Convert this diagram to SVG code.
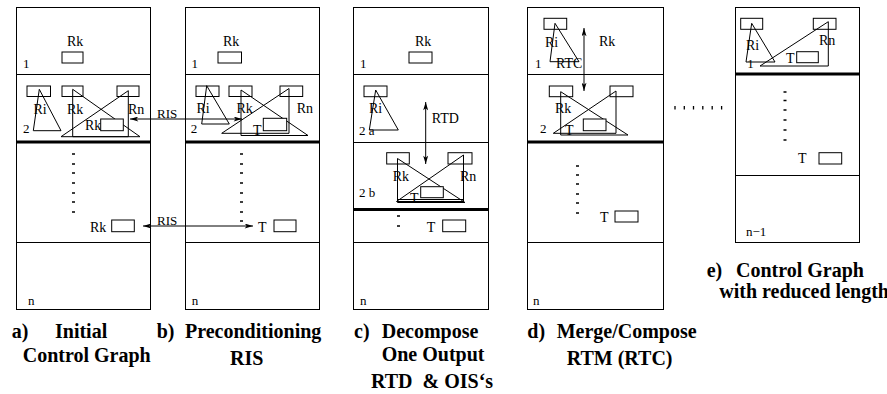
<svg xmlns="http://www.w3.org/2000/svg" width="887" height="394" viewBox="0 0 887 394">
<style>
.frame{fill:#fff;stroke:#000;stroke-width:1}
.ln{fill:none;stroke:#000;stroke-width:1}
.thick{fill:none;stroke:#000;stroke-width:3}
.bx{fill:#fff;stroke:#000;stroke-width:1}
.tri{fill:none;stroke:#000;stroke-width:1;stroke-linejoin:miter}
.dash{fill:none;stroke:#000;stroke-width:1.3}
.t{font-family:"Liberation Serif","Times New Roman",serif;font-size:14px;fill:#000}
.s{font-family:"Liberation Serif","Times New Roman",serif;font-size:13px;fill:#000}
.cap{font-family:"Liberation Serif","Times New Roman",serif;font-size:20px;font-weight:bold;fill:#000}
.arr{fill:none;stroke:#000;stroke-width:1;marker-start:url(#ah);marker-end:url(#ah)}
</style>
<defs>
<marker id="ah" viewBox="0 0 10 6" refX="10" refY="3" markerWidth="9" markerHeight="5" orient="auto-start-reverse" markerUnits="userSpaceOnUse">
<path d="M0,0 L10,3 L0,6 L2.5,3 z" fill="#000"/>
</marker>
</defs>
<rect width="887" height="394" fill="#fff"/>

<g id="panel-a">
<rect class="frame" x="16.5" y="7.5" width="134" height="302"/>
<path class="ln" d="M16.5,74.5 H150.5 M16.5,242.5 H150.5"/>
<path class="thick" d="M16.5,142 H150.5"/>
<text class="t" x="67" y="46">Rk</text>
<rect class="bx" x="62" y="52" width="21" height="11"/>
<text class="s" x="23" y="68">1</text>
<rect class="bx" x="27" y="86" width="23.5" height="10.5"/>
<rect class="bx" x="62" y="86" width="21" height="10.5"/>
<rect class="bx" x="117" y="86" width="22" height="10.5"/>
<polygon class="tri" points="39.3,89.3 33.3,130.7 61,130.7"/>
<polygon class="tri" points="72.7,89.3 72.7,136.7 140,136.7"/>
<polygon class="tri" points="128.3,90.7 61,136.7 128.3,136.7"/>
<text class="t" x="33.5" y="114">Ri</text>
<text class="t" x="67" y="114">Rk</text>
<text class="t" x="128" y="114">Rn</text>
<text class="t" x="85" y="130">Rk</text>
<rect class="bx" x="100.7" y="119" width="22.6" height="11.7"/>
<text class="s" x="23" y="133">2</text>
<path class="dash" d="M72,154 h3 M72,164 h3 M72,173 h3 M72,183 h3 M72,193 h3 M72,202 h3 M72,212 h3"/>
<text class="t" x="90" y="231.5">Rk</text>
<rect class="bx" x="111.7" y="220" width="22.6" height="11.7"/>
<text class="s" x="28" y="305">n</text>
</g>

<g id="panel-b">
<rect class="frame" x="185.5" y="7.5" width="134" height="302"/>
<path class="ln" d="M185.5,74.5 H319.5 M185.5,242.5 H319.5"/>
<path class="thick" d="M185.5,142 H319.5"/>
<text class="t" x="223" y="46">Rk</text>
<rect class="bx" x="218" y="52" width="23.5" height="11"/>
<text class="s" x="191.5" y="68">1</text>
<rect class="bx" x="196" y="86" width="23" height="10.5"/>
<rect class="bx" x="229" y="86" width="23" height="10.5"/>
<rect class="bx" x="280" y="86" width="22.7" height="10.5"/>
<polygon class="tri" points="206.7,85.7 201.7,124 229.3,124"/>
<polygon class="tri" points="241,90 241,135.5 308,135.5"/>
<polygon class="tri" points="289,88.5 221.7,133.3 289,133.3"/>
<text class="t" x="196.5" y="113">Ri</text>
<text class="t" x="236.5" y="113">Rk</text>
<text class="t" x="296.7" y="113">Rn</text>
<rect class="bx" x="263.3" y="118.3" width="23.4" height="12.4"/>
<text class="t" x="253" y="135">T</text>
<text class="s" x="190.7" y="133">2</text>
<path class="dash" d="M240,154 h3 M240,164 h3 M240,173 h3 M240,183 h3 M240,193 h3 M240,202 h3 M240,212 h3 M240,221 h3"/>
<text class="t" x="258" y="231.5">T</text>
<rect class="bx" x="274" y="220" width="22" height="11.7"/>
<text class="s" x="191.7" y="305">n</text>
</g>

<g id="panel-c">
<rect class="frame" x="353.5" y="7.5" width="135" height="302"/>
<path class="ln" d="M353.5,74.5 H488.5 M353.5,142.5 H488.5 M353.5,242.5 H488.5"/>
<path class="thick" d="M353.5,209.5 H488.5"/>
<text class="t" x="415" y="46">Rk</text>
<rect class="bx" x="409" y="52" width="23" height="11"/>
<text class="s" x="360" y="68">1</text>
<rect class="bx" x="364" y="86" width="23" height="10.7"/>
<polygon class="tri" points="375.7,90 369.3,130 398.3,130"/>
<text class="t" x="369" y="113">Ri</text>
<text class="s" x="359" y="135">2 a</text>
<text class="t" x="431.7" y="123">RTD</text>
<rect class="bx" x="386.7" y="152.7" width="22.6" height="11.3"/>
<rect class="bx" x="448" y="152.7" width="24" height="11.3"/>
<polygon class="tri" points="397.5,158.5 397.5,202.5 465,202.5"/>
<polygon class="tri" points="463.5,155 396.5,201.5 463.5,201.5"/>
<path class="ln" d="M397.5,199.5 H463.5"/>
<text class="t" x="392.7" y="180.7">Rk</text>
<text class="t" x="460" y="181">Rn</text>
<rect class="bx" x="420.7" y="186.7" width="22.6" height="11"/>
<text class="t" x="410" y="203">T</text>
<text class="s" x="359" y="197">2 b</text>
<path class="dash" d="M397,216 h3 M397,226 h3"/>
<text class="t" x="426.7" y="231.5">T</text>
<rect class="bx" x="442.7" y="220" width="23" height="11.7"/>
<text class="s" x="360" y="305">n</text>
</g>

<g id="panel-d">
<rect class="frame" x="527.5" y="7.5" width="136" height="302"/>
<path class="ln" d="M527.5,74.5 H663.5 M527.5,242.5 H663.5"/>
<path class="thick" d="M527.5,142 H663.5"/>
<rect class="bx" x="544" y="18.3" width="22.7" height="11"/>
<polygon class="tri" points="555,23.3 550,61.7 579,61.7"/>
<text class="t" x="545" y="46.7">Ri</text>
<text class="t" x="556" y="68">RTC</text>
<text class="s" x="535" y="68">1</text>
<text class="t" x="599" y="46">Rk</text>
<rect class="bx" x="549.3" y="86" width="23.4" height="10.7"/>
<rect class="bx" x="610" y="86" width="23" height="10.7"/>
<polygon class="tri" points="560.7,91.7 560.7,135 628,135"/>
<polygon class="tri" points="616,91 553.3,133.3 616,133.3"/>
<text class="t" x="555" y="113">Rk</text>
<text class="s" x="540" y="133">2</text>
<text class="t" x="565" y="135">T</text>
<rect class="bx" x="583.3" y="119" width="22.7" height="11.7"/>
<path class="dash" d="M576,166 h3 M576,175 h3 M576,184 h3 M576,194 h3 M576,203 h3 M576,213 h3"/>
<text class="t" x="600" y="222">T</text>
<rect class="bx" x="615" y="211" width="23" height="11"/>
<text class="s" x="533" y="305">n</text>
</g>

<g id="gap-dots">
<path class="dash" d="M675,106 v3.5 M684.3,106 v3.5 M693.5,106 v3.5 M702.8,106 v3.5 M712.2,106 v3.5 M721.6,106 v3.5"/>
</g>

<g id="panel-e">
<rect class="frame" x="735.5" y="7.5" width="124" height="235"/>
<path class="ln" d="M735.5,175.5 H859.5"/>
<path class="thick" d="M735.5,74 H859.5"/>
<rect class="bx" x="740.7" y="18.3" width="22" height="11"/>
<rect class="bx" x="813.3" y="18.3" width="22.7" height="11"/>
<polygon class="tri" points="751.7,23.3 746,62 775,62"/>
<polygon class="tri" points="828.3,21.7 760,66 828.3,66"/>
<text class="t" x="746" y="50">Ri</text>
<text class="t" x="819" y="45">Rn</text>
<text class="s" x="747.3" y="68.3">1</text>
<text class="t" x="786" y="62.7">T</text>
<rect class="bx" x="796.7" y="51.7" width="21.6" height="11"/>
<path class="dash" d="M783.5,92 h3 M783.5,100.5 h3 M783.5,110 h3 M783.5,120 h3 M783.5,130 h3 M783.5,140 h3"/>
<text class="t" x="798" y="163">T</text>
<rect class="bx" x="819" y="152.7" width="22.7" height="11.3"/>
<text class="s" x="746" y="236">n−1</text>
</g>

<g id="connectors">
<path class="arr" d="M130,119 H242"/>
<text class="s" x="157" y="117.5">RIS</text>
<path class="arr" d="M143,226 H253"/>
<text class="s" x="157" y="225">RIS</text>
<path class="arr" d="M425.7,102 V164"/>
<path class="arr" d="M584,28 V91"/>
</g>

<g id="captions">
<text class="cap" x="11.7" y="338">a)</text>
<text class="cap" x="55" y="338">Initial</text>
<text class="cap" x="22.7" y="361.7">Control Graph</text>
<text class="cap" x="156.7" y="338">b)</text>
<text class="cap" x="185" y="338">Preconditioning</text>
<text class="cap" x="230" y="365">RIS</text>
<text class="cap" x="354" y="338">c)</text>
<text class="cap" x="381.7" y="338">Decompose</text>
<text class="cap" x="381.7" y="361">One Output</text>
<text class="cap" x="371" y="388" xml:space="preserve">RTD  &amp; OIS‘s</text>
<text class="cap" x="527.3" y="338">d)</text>
<text class="cap" x="556.7" y="338">Merge/Compose</text>
<text class="cap" x="566.7" y="365">RTM (RTC)</text>
<text class="cap" x="706.7" y="276.7">e)</text>
<text class="cap" x="736" y="276.7">Control Graph</text>
<text class="cap" x="719.3" y="298.3">with reduced length</text>
</g>
</svg>
